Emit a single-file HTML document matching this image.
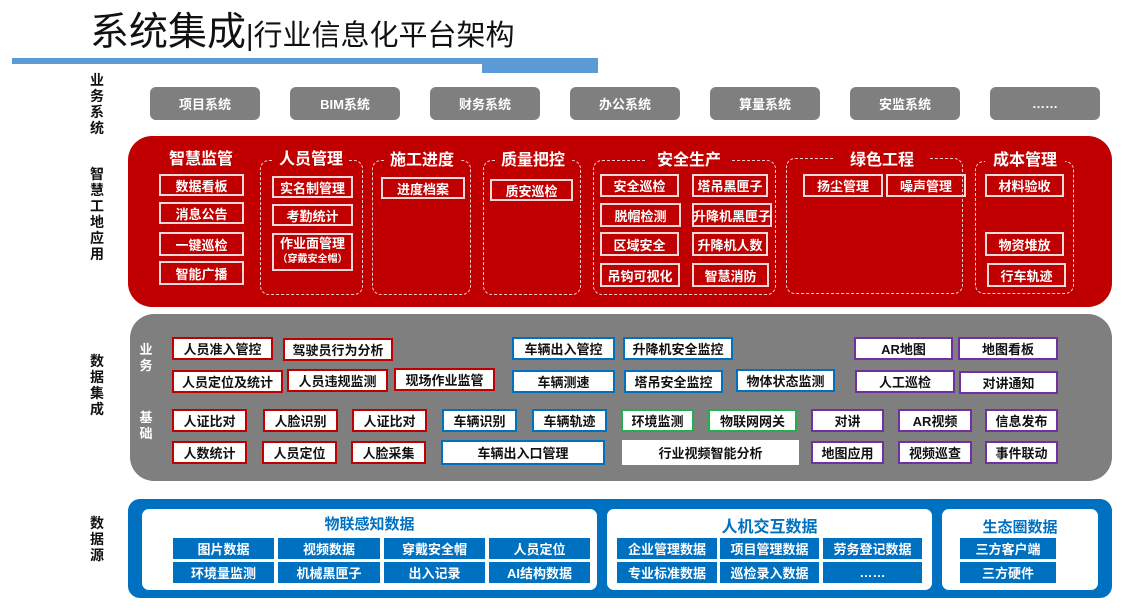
<!DOCTYPE html>
<html><head><meta charset="utf-8"><style>
*{margin:0;padding:0;box-sizing:border-box}
body{width:1138px;height:610px;background:#fff;position:relative;overflow:hidden;font-family:"Liberation Sans","Noto Sans CJK SC",sans-serif}
div{position:absolute}
.c{display:flex;align-items:center;justify-content:center;text-align:center;font-weight:bold;white-space:nowrap}
.g{background:#7f7f7f;color:#fff;border-radius:6px;font-size:13px;height:33px;top:87px;width:110px}
.rb{border:2px solid #f2dada;color:#fff;font-size:13px;width:85px;height:22px}
.dg{border:1.5px dashed #f0d0d0;border-radius:9px}
.rt{color:#fff;font-size:16px;font-weight:bold;background:#c00000;padding:0 4px}
.w{background:#fff;color:#111;font-size:13px;height:23px}
.r{border:2px solid #c00000}.b{border:2px solid #0070c0}.gr{border:2px solid #22b04c}.p{border:2px solid #7030a0}
.bl{background:#0070c0;color:#fff;font-size:13px;height:21px}
.lab{font-size:14px;font-weight:bold;line-height:16px;width:16px;text-align:center;color:#111}
</style></head><body>
<div style="left:90px;top:11px;font-size:39px;color:#111;line-height:44px;white-space:nowrap">系统集成<span style="font-size:29px">|行业信息化平台架构</span></div>
<div style="left:12px;top:58px;width:586px;height:6px;background:#5b9bd5"></div>
<div style="left:482px;top:64px;width:116px;height:9px;background:#5b9bd5"></div>

<div class="lab" style="left:89px;top:72px">业务系统</div>
<div class="lab" style="left:89px;top:166px">智慧工地应用</div>
<div class="lab" style="left:89px;top:353px">数据集成</div>
<div class="lab" style="left:89px;top:515px">数据源</div>

<div class="c g" style="left:150px">项目系统</div>
<div class="c g" style="left:290px">BIM系统</div>
<div class="c g" style="left:430px">财务系统</div>
<div class="c g" style="left:570px">办公系统</div>
<div class="c g" style="left:710px">算量系统</div>
<div class="c g" style="left:850px">安监系统</div>
<div class="c g" style="left:990px">……</div>

<div style="left:128px;top:136px;width:984px;height:171px;background:#c00000;border-radius:24px"></div>
<div class="dg" style="left:260px;top:160px;width:103px;height:135px"></div>
<div class="dg" style="left:372px;top:160px;width:99px;height:135px"></div>
<div class="dg" style="left:483px;top:160px;width:98px;height:135px"></div>
<div class="dg" style="left:593px;top:160px;width:183px;height:135px"></div>
<div class="dg" style="left:786px;top:158px;width:177px;height:136px"></div>
<div class="dg" style="left:975px;top:161px;width:99px;height:133px"></div>
<div class="c rt" style="left:160px;top:146px;width:82px;height:22px">智慧监管</div>
<div class="c rt" style="left:273px;top:146px;width:76px;height:22px">人员管理</div>
<div class="c rt" style="left:384px;top:147px;width:76px;height:22px">施工进度</div>
<div class="c rt" style="left:495px;top:147px;width:76px;height:22px">质量把控</div>
<div class="c rt" style="left:646px;top:147px;width:86px;height:22px">安全生产</div>
<div class="c rt" style="left:835px;top:147px;width:94px;height:22px">绿色工程</div>
<div class="c rt" style="left:985px;top:147px;width:80px;height:22px">成本管理</div>

<div class="c rb" style="left:159px;top:174px">数据看板</div>
<div class="c rb" style="left:159px;top:202px">消息公告</div>
<div class="c rb" style="left:159px;top:232px;height:24px">一键巡检</div>
<div class="c rb" style="left:159px;top:261px;height:24px">智能广播</div>
<div class="c rb" style="left:272px;top:176px;width:81px">实名制管理</div>
<div class="c rb" style="left:272px;top:204px;width:81px">考勤统计</div>
<div class="c rb" style="left:272px;top:233px;width:81px;height:38px;flex-direction:column;line-height:16px">作业面管理<span style="font-size:10px">（穿戴安全帽）</span></div>
<div class="c rb" style="left:381px;top:177px;width:84px">进度档案</div>
<div class="c rb" style="left:490px;top:179px;width:83px">质安巡检</div>
<div class="c rb" style="left:600px;top:174px;width:79px;height:23px">安全巡检</div>
<div class="c rb" style="left:692px;top:174px;width:76px;height:23px">塔吊黑匣子</div>
<div class="c rb" style="left:600px;top:203px;width:81px;height:24px">脱帽检测</div>
<div class="c rb" style="left:692px;top:203px;width:80px;height:24px">升降机黑匣子</div>
<div class="c rb" style="left:600px;top:232px;width:79px;height:24px">区域安全</div>
<div class="c rb" style="left:692px;top:232px;width:76px;height:24px">升降机人数</div>
<div class="c rb" style="left:600px;top:263px;width:80px;height:24px">吊钩可视化</div>
<div class="c rb" style="left:692px;top:263px;width:77px;height:24px">智慧消防</div>
<div class="c rb" style="left:803px;top:174px;width:80px;height:23px">扬尘管理</div>
<div class="c rb" style="left:886px;top:174px;width:80px;height:23px">噪声管理</div>
<div class="c rb" style="left:985px;top:174px;width:79px;height:23px">材料验收</div>
<div class="c rb" style="left:985px;top:232px;width:79px;height:24px">物资堆放</div>
<div class="c rb" style="left:987px;top:263px;width:79px;height:24px">行车轨迹</div>

<div style="left:130px;top:314px;width:982px;height:167px;background:#7f7f7f;border-radius:24px"></div>
<div class="lab" style="left:138px;top:342px;color:#fff;font-size:13px">业务</div>
<div class="lab" style="left:138px;top:410px;color:#fff;font-size:13px">基础</div>

<div class="c w r" style="left:172px;top:337px;width:101px">人员准入管控</div>
<div class="c w r" style="left:283px;top:338px;width:110px">驾驶员行为分析</div>
<div class="c w b" style="left:512px;top:337px;width:103px">车辆出入管控</div>
<div class="c w b" style="left:623px;top:337px;width:110px">升降机安全监控</div>
<div class="c w p" style="left:854px;top:337px;width:99px">AR地图</div>
<div class="c w p" style="left:958px;top:337px;width:100px">地图看板</div>

<div class="c w r" style="left:172px;top:370px;width:111px">人员定位及统计</div>
<div class="c w r" style="left:287px;top:369px;width:101px">人员违规监测</div>
<div class="c w r" style="left:394px;top:368px;width:101px">现场作业监管</div>
<div class="c w b" style="left:512px;top:370px;width:103px">车辆测速</div>
<div class="c w b" style="left:624px;top:370px;width:99px">塔吊安全监控</div>
<div class="c w b" style="left:736px;top:369px;width:99px">物体状态监测</div>
<div class="c w p" style="left:855px;top:370px;width:100px">人工巡检</div>
<div class="c w p" style="left:959px;top:371px;width:99px">对讲通知</div>

<div class="c w r" style="left:172px;top:409px;width:75px">人证比对</div>
<div class="c w r" style="left:263px;top:409px;width:75px">人脸识别</div>
<div class="c w r" style="left:352px;top:409px;width:75px">人证比对</div>
<div class="c w b" style="left:442px;top:409px;width:75px">车辆识别</div>
<div class="c w b" style="left:532px;top:409px;width:75px">车辆轨迹</div>
<div class="c w gr" style="left:621px;top:409px;width:73px">环境监测</div>
<div class="c w gr" style="left:708px;top:409px;width:89px">物联网网关</div>
<div class="c w p" style="left:811px;top:409px;width:73px">对讲</div>
<div class="c w p" style="left:898px;top:409px;width:74px">AR视频</div>
<div class="c w p" style="left:985px;top:409px;width:73px">信息发布</div>

<div class="c w r" style="left:172px;top:441px;width:75px">人数统计</div>
<div class="c w r" style="left:262px;top:441px;width:75px">人员定位</div>
<div class="c w r" style="left:351px;top:441px;width:75px">人脸采集</div>
<div class="c w b" style="left:441px;top:440px;width:164px;height:25px">车辆出入口管理</div>
<div class="c w" style="left:622px;top:440px;width:177px;height:25px">行业视频智能分析</div>
<div class="c w p" style="left:811px;top:441px;width:73px">地图应用</div>
<div class="c w p" style="left:898px;top:441px;width:74px">视频巡查</div>
<div class="c w p" style="left:985px;top:441px;width:73px">事件联动</div>

<div style="left:128px;top:499px;width:984px;height:99px;background:#0070c0;border-radius:12px"></div>
<div style="left:142px;top:509px;width:455px;height:81px;background:#fff;border-radius:7px"></div>
<div style="left:607px;top:509px;width:325px;height:81px;background:#fff;border-radius:7px"></div>
<div style="left:942px;top:509px;width:156px;height:81px;background:#fff;border-radius:7px"></div>
<div class="c" style="left:142px;top:513px;width:455px;height:20px;color:#0070c0;font-size:15px">物联感知数据</div>
<div class="c" style="left:607px;top:515px;width:325px;height:20px;color:#0070c0;font-size:16px">人机交互数据</div>
<div class="c" style="left:942px;top:516px;width:156px;height:20px;color:#0070c0;font-size:15px">生态圈数据</div>

<div class="c bl" style="left:173px;top:538px;width:101px">图片数据</div>
<div class="c bl" style="left:278px;top:538px;width:102px">视频数据</div>
<div class="c bl" style="left:384px;top:538px;width:101px">穿戴安全帽</div>
<div class="c bl" style="left:489px;top:538px;width:101px">人员定位</div>
<div class="c bl" style="left:173px;top:562px;width:101px">环境量监测</div>
<div class="c bl" style="left:278px;top:562px;width:102px">机械黑匣子</div>
<div class="c bl" style="left:384px;top:562px;width:101px">出入记录</div>
<div class="c bl" style="left:489px;top:562px;width:101px">AI结构数据</div>
<div class="c bl" style="left:617px;top:538px;width:100px">企业管理数据</div>
<div class="c bl" style="left:720px;top:538px;width:99px">项目管理数据</div>
<div class="c bl" style="left:823px;top:538px;width:99px">劳务登记数据</div>
<div class="c bl" style="left:617px;top:562px;width:100px">专业标准数据</div>
<div class="c bl" style="left:720px;top:562px;width:99px">巡检录入数据</div>
<div class="c bl" style="left:823px;top:562px;width:99px">……</div>
<div class="c bl" style="left:960px;top:538px;width:96px">三方客户端</div>
<div class="c bl" style="left:960px;top:562px;width:96px">三方硬件</div>
</body></html>
